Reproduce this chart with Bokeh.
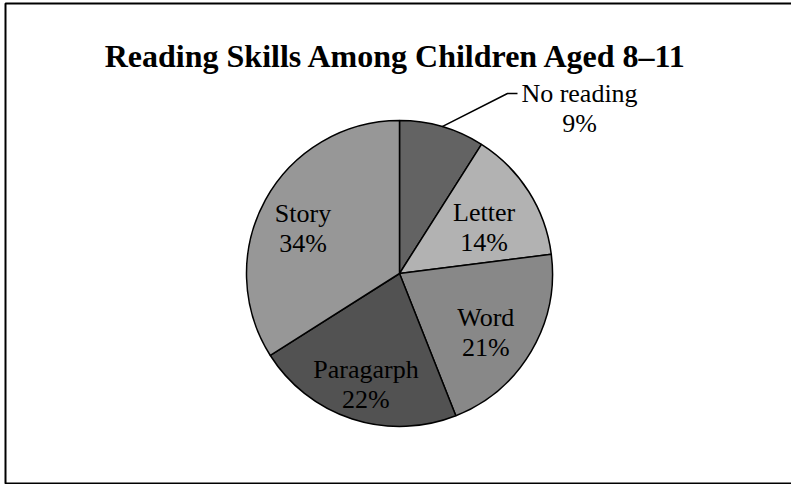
import math
from bokeh.plotting import figure
from bokeh.models import Range1d, ColumnDataSource
from bokeh.core.properties import value
from bokeh.embed import file_html
from bokeh.resources import INLINE

# ---- data ----
title = "Reading Skills Among Children Aged 8–11"
categories = ["No reading", "Letter", "Word", "Paragarph", "Story"]
percents = [9, 14, 21, 22, 34]
colors = ["#636363", "#b2b2b2", "#888888", "#525252", "#979797"]

# ---- layout (pixels, y measured from top) ----
W, H = 791, 484
CX, CY, R = 399, 273, 153
label_r = [None, 0.655, 0.655, 0.71, 0.72]   # fraction of R for inside labels
FONT = "Liberation Serif"
LBL = "26px"

p = figure(width=W, height=H, output_backend="svg", toolbar_location=None,
           x_range=Range1d(0, W), y_range=Range1d(0, H), min_border=0)
p.axis.visible = False
p.grid.visible = False
p.outline_line_color = None
p.background_fill_color = "white"
p.border_fill_color = "white"

def Y(y):
    return H - y

total = sum(percents)
starts, ends, mids = [], [], []
cum = 0.0
for v in percents:
    a0 = cum / total
    cum += v
    a1 = cum / total
    # clockwise from 12 o'clock
    starts.append(math.pi / 2 - a1 * 2 * math.pi)
    ends.append(math.pi / 2 - a0 * 2 * math.pi)
    mids.append((a0 + a1) / 2 * 2 * math.pi)

src = ColumnDataSource(dict(x=[CX] * len(percents), y=[Y(CY)] * len(percents),
                            start=starts, end=ends, color=colors))
p.wedge(x="x", y="y", radius=R, start_angle="start", end_angle="end",
        direction="anticlock", fill_color="color", line_color="black",
        line_width=1.5, source=src)

# border (right side lies outside the picture)
p.rect(x=[(5 + 805) / 2], y=[Y((3 + 483) / 2)], width=800, height=480,
       fill_color=None, line_color="black", line_width=2)

# title
p.text(x=[396], y=[Y(55)], text=[title], text_font=value(FONT),
       text_font_size="32px", text_font_style="bold", text_align="center",
       text_baseline="alphabetic", text_color="black")

names_x, names_y, pct_x, pct_y, pct_t = [], [], [], [], []
for i, (cat, v) in enumerate(zip(categories, percents)):
    if label_r[i] is None:
        continue
    rr = label_r[i] * R
    ax = CX + rr * math.sin(mids[i])
    ay = CY - rr * math.cos(mids[i])
    names_x.append(ax); names_y.append(Y(ay - 7))
    pct_x.append(ax); pct_y.append(Y(ay + 23))
    pct_t.append(f"{v}%")

inside = [c for i, c in enumerate(categories) if label_r[i] is not None]
p.text(x=names_x, y=names_y, text=inside, text_font=value(FONT),
       text_font_size=LBL, text_align="center", text_baseline="alphabetic",
       text_color="black")
p.text(x=pct_x, y=pct_y, text=pct_t, text_font=value(FONT),
       text_font_size=LBL, text_align="center", text_baseline="alphabetic",
       text_color="black")

# outside label with leader line for the first slice
m = mids[0]
ex = CX + R * math.sin(m)
ey = CY - R * math.cos(m)
p.line(x=[ex, 507, 517], y=[Y(ey), Y(93), Y(93)], line_color="black", line_width=1.5)
p.text(x=[579], y=[Y(93)], text=[categories[0]], text_font=value(FONT),
       text_font_size=LBL, text_align="center", text_baseline="alphabetic",
       text_color="black")
p.text(x=[579], y=[Y(123)], text=[f"{percents[0]}%"], text_font=value(FONT),
       text_font_size=LBL, text_align="center", text_baseline="alphabetic",
       text_color="black")

open("out.html", "w").write(file_html(p, INLINE))
